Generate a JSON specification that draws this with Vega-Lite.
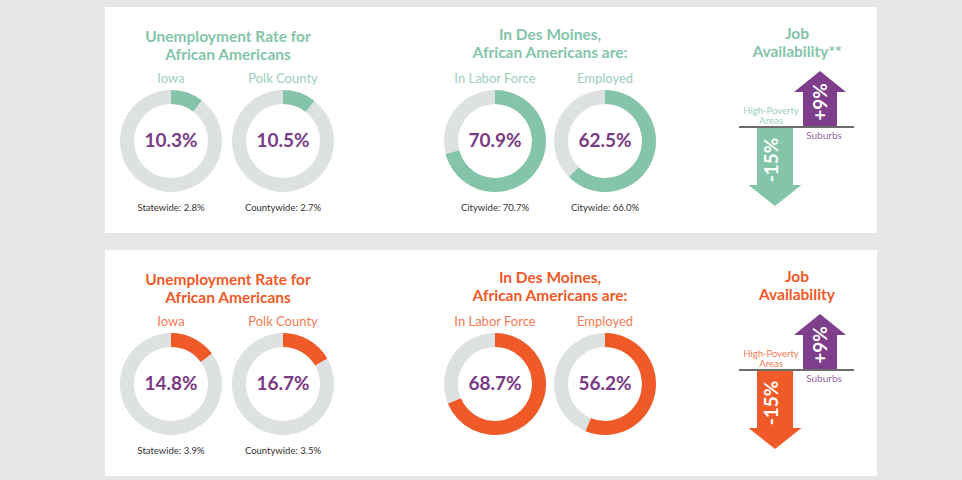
{
  "$schema": "https://vega.github.io/schema/vega-lite/v6.json",
  "background": "#e7e7e7",
  "padding": {"left": 105, "top": 7, "right": 85, "bottom": 4},
  "autosize": {"type": "pad"},
  "data": {
    "values": [
      {"section": "A", "kind": "title", "group": "Unemployment", "title": "Unemployment Rate for\nAfrican Americans"},
      {"section": "A", "kind": "title", "group": "Des Moines", "title": "In Des Moines,\nAfrican Americans are:"},
      {"section": "A", "kind": "title", "group": "Job", "title": "Job\nAvailability**"},
      {"section": "A", "kind": "donut", "group": "Unemployment", "item": "Iowa", "value": 10.3, "text": "10.3%", "caption": "Statewide: 2.8%"},
      {"section": "A", "kind": "donut", "group": "Unemployment", "item": "Polk County", "value": 10.5, "text": "10.5%", "caption": "Countywide: 2.7%"},
      {"section": "A", "kind": "donut", "group": "Des Moines", "item": "In Labor Force", "value": 70.9, "text": "70.9%", "caption": "Citywide: 70.7%"},
      {"section": "A", "kind": "donut", "group": "Des Moines", "item": "Employed", "value": 62.5, "text": "62.5%", "caption": "Citywide: 66.0%"},
      {"section": "A", "kind": "arrow", "group": "Job", "area": "High-Poverty Areas", "value": -15, "text": "-15%"},
      {"section": "A", "kind": "arrow", "group": "Job", "area": "Suburbs", "value": 9, "text": "+9%"},
      {"section": "B", "kind": "title", "group": "Unemployment", "title": "Unemployment Rate for\nAfrican Americans"},
      {"section": "B", "kind": "title", "group": "Des Moines", "title": "In Des Moines,\nAfrican Americans are:"},
      {"section": "B", "kind": "title", "group": "Job", "title": "Job\nAvailability"},
      {"section": "B", "kind": "donut", "group": "Unemployment", "item": "Iowa", "value": 14.8, "text": "14.8%", "caption": "Statewide: 3.9%"},
      {"section": "B", "kind": "donut", "group": "Unemployment", "item": "Polk County", "value": 16.7, "text": "16.7%", "caption": "Countywide: 3.5%"},
      {"section": "B", "kind": "donut", "group": "Des Moines", "item": "In Labor Force", "value": 68.7, "text": "68.7%"},
      {"section": "B", "kind": "donut", "group": "Des Moines", "item": "Employed", "value": 56.2, "text": "56.2%"},
      {"section": "B", "kind": "arrow", "group": "Job", "area": "High-Poverty Areas", "value": -15, "text": "-15%"},
      {"section": "B", "kind": "arrow", "group": "Job", "area": "Suburbs", "value": 9, "text": "+9%"}
    ]
  },
  "facet": {"row": {"field": "section", "type": "nominal", "header": null, "title": null}},
  "spacing": {"row": 17},
  "bounds": "flush",
  "spec": {
    "width": 772,
    "height": 226,
    "resolve": {"scale": {"x": "independent", "y": "independent"}},
    "layer": [
      {
        "transform": [{"filter": "datum.kind=='donut' && datum.group=='Unemployment'"}],
        "mark": {"type": "arc", "innerRadius": 37, "outerRadius": 51, "color": "#dee1e2"},
        "encoding": {
          "x": {"field": "item", "type": "nominal", "scale": {"type": "point", "domain": ["Iowa", "Polk County"], "range": [66, 178], "padding": 0}, "axis": null},
          "y": {"field": "kind", "type": "nominal", "scale": {"type": "point", "domain": ["donut"], "range": [134, 134]}, "axis": null}
        }
      },
      {
        "transform": [{"filter": "datum.kind=='donut' && datum.group=='Unemployment'"}],
        "mark": {"type": "arc", "innerRadius": 37, "outerRadius": 51},
        "encoding": {
          "x": {"field": "item", "type": "nominal", "scale": {"type": "point", "domain": ["Iowa", "Polk County"], "range": [66, 178], "padding": 0}, "axis": null},
          "y": {"field": "kind", "type": "nominal", "scale": {"type": "point", "domain": ["donut"], "range": [134, 134]}, "axis": null},
          "theta": {"field": "value", "type": "quantitative", "stack": null, "scale": {"domain": [0, 100]}},
          "color": {"field": "section", "type": "nominal", "scale": {"domain": ["A", "B"], "range": ["#84c5a9", "#f05a28"]}, "legend": null}
        }
      },
      {
        "transform": [{"filter": "datum.kind=='donut' && datum.group=='Des Moines'"}],
        "mark": {"type": "arc", "innerRadius": 37, "outerRadius": 51, "color": "#dee1e2"},
        "encoding": {
          "x": {"field": "item", "type": "nominal", "scale": {"type": "point", "domain": ["In Labor Force", "Employed"], "range": [390, 500], "padding": 0}, "axis": null},
          "y": {"field": "kind", "type": "nominal", "scale": {"type": "point", "domain": ["donut"], "range": [134, 134]}, "axis": null}
        }
      },
      {
        "transform": [{"filter": "datum.kind=='donut' && datum.group=='Des Moines'"}],
        "mark": {"type": "arc", "innerRadius": 37, "outerRadius": 51},
        "encoding": {
          "x": {"field": "item", "type": "nominal", "scale": {"type": "point", "domain": ["In Labor Force", "Employed"], "range": [390, 500], "padding": 0}, "axis": null},
          "y": {"field": "kind", "type": "nominal", "scale": {"type": "point", "domain": ["donut"], "range": [134, 134]}, "axis": null},
          "theta": {"field": "value", "type": "quantitative", "stack": null, "scale": {"domain": [0, 100]}},
          "color": {"field": "section", "type": "nominal", "scale": {"domain": ["A", "B"], "range": ["#84c5a9", "#f05a28"]}, "legend": null}
        }
      },
      {
        "transform": [{"filter": "datum.kind=='donut' && datum.group=='Unemployment'"}],
        "mark": {"type": "text", "font": "Lato", "fontSize": 19, "fontWeight": "bold", "color": "#7b3a86", "align": "center", "baseline": "middle"},
        "encoding": {
          "x": {"field": "item", "type": "nominal", "scale": {"type": "point", "domain": ["Iowa", "Polk County"], "range": [66, 178], "padding": 0}, "axis": null},
          "y": {"field": "kind", "type": "nominal", "scale": {"type": "point", "domain": ["donut"], "range": [134, 134]}, "axis": null},
          "text": {"field": "text"}
        }
      },
      {
        "transform": [{"filter": "datum.kind=='donut' && datum.group=='Des Moines'"}],
        "mark": {"type": "text", "font": "Lato", "fontSize": 19, "fontWeight": "bold", "color": "#7b3a86", "align": "center", "baseline": "middle"},
        "encoding": {
          "x": {"field": "item", "type": "nominal", "scale": {"type": "point", "domain": ["In Labor Force", "Employed"], "range": [390, 500], "padding": 0}, "axis": null},
          "y": {"field": "kind", "type": "nominal", "scale": {"type": "point", "domain": ["donut"], "range": [134, 134]}, "axis": null},
          "text": {"field": "text"}
        }
      },
      {
        "transform": [{"filter": "datum.kind=='donut' && datum.group=='Unemployment'"}],
        "mark": {"type": "text", "font": "Lato", "fontSize": 13, "opacity": 0.8, "align": "center", "baseline": "middle"},
        "encoding": {
          "x": {"field": "item", "type": "nominal", "scale": {"type": "point", "domain": ["Iowa", "Polk County"], "range": [66, 178], "padding": 0}, "axis": null},
          "y": {"field": "kind", "type": "nominal", "scale": {"type": "point", "domain": ["donut"], "range": [72, 72]}, "axis": null},
          "text": {"field": "item"},
          "color": {"field": "section", "type": "nominal", "scale": {"domain": ["A", "B"], "range": ["#84c5a9", "#f05a28"]}, "legend": null}
        }
      },
      {
        "transform": [{"filter": "datum.kind=='donut' && datum.group=='Des Moines'"}],
        "mark": {"type": "text", "font": "Lato", "fontSize": 13, "opacity": 0.8, "align": "center", "baseline": "middle"},
        "encoding": {
          "x": {"field": "item", "type": "nominal", "scale": {"type": "point", "domain": ["In Labor Force", "Employed"], "range": [390, 500], "padding": 0}, "axis": null},
          "y": {"field": "kind", "type": "nominal", "scale": {"type": "point", "domain": ["donut"], "range": [72, 72]}, "axis": null},
          "text": {"field": "item"},
          "color": {"field": "section", "type": "nominal", "scale": {"domain": ["A", "B"], "range": ["#84c5a9", "#f05a28"]}, "legend": null}
        }
      },
      {
        "transform": [{"filter": "datum.kind=='donut' && datum.group=='Unemployment' && datum.caption"}],
        "mark": {"type": "text", "font": "Lato", "fontSize": 9.5, "color": "#333333", "align": "center", "baseline": "middle"},
        "encoding": {
          "x": {"field": "item", "type": "nominal", "scale": {"type": "point", "domain": ["Iowa", "Polk County"], "range": [66, 178], "padding": 0}, "axis": null},
          "y": {"field": "kind", "type": "nominal", "scale": {"type": "point", "domain": ["donut"], "range": [201, 201]}, "axis": null},
          "text": {"field": "caption"}
        }
      },
      {
        "transform": [{"filter": "datum.kind=='donut' && datum.group=='Des Moines' && datum.caption"}],
        "mark": {"type": "text", "font": "Lato", "fontSize": 9.5, "color": "#333333", "align": "center", "baseline": "middle"},
        "encoding": {
          "x": {"field": "item", "type": "nominal", "scale": {"type": "point", "domain": ["In Labor Force", "Employed"], "range": [390, 500], "padding": 0}, "axis": null},
          "y": {"field": "kind", "type": "nominal", "scale": {"type": "point", "domain": ["donut"], "range": [201, 201]}, "axis": null},
          "text": {"field": "caption"}
        }
      },
      {
        "transform": [{"filter": "datum.kind=='title' && datum.group=='Unemployment'"}],
        "mark": {"type": "text", "font": "Lato", "fontSize": 15.5, "fontWeight": "bold", "align": "center", "baseline": "alphabetic", "lineBreak": "\n", "lineHeight": 17.5},
        "encoding": {
          "x": {"field": "group", "type": "nominal", "scale": {"type": "point", "domain": ["Unemployment"], "range": [123, 123]}, "axis": null},
          "y": {"field": "kind", "type": "nominal", "scale": {"type": "point", "domain": ["title"], "range": [35, 35]}, "axis": null},
          "text": {"field": "title"},
          "color": {"field": "section", "type": "nominal", "scale": {"domain": ["A", "B"], "range": ["#84c5a9", "#f05a28"]}, "legend": null}
        }
      },
      {
        "transform": [{"filter": "datum.kind=='title' && datum.group=='Des Moines'"}],
        "mark": {"type": "text", "font": "Lato", "fontSize": 15.5, "fontWeight": "bold", "align": "center", "baseline": "alphabetic", "lineBreak": "\n", "lineHeight": 17.5},
        "encoding": {
          "x": {"field": "group", "type": "nominal", "scale": {"type": "point", "domain": ["Des Moines"], "range": [445, 445]}, "axis": null},
          "y": {"field": "kind", "type": "nominal", "scale": {"type": "point", "domain": ["title"], "range": [33, 33]}, "axis": null},
          "text": {"field": "title"},
          "color": {"field": "section", "type": "nominal", "scale": {"domain": ["A", "B"], "range": ["#84c5a9", "#f05a28"]}, "legend": null}
        }
      },
      {
        "transform": [{"filter": "datum.kind=='title' && datum.group=='Job'"}],
        "mark": {"type": "text", "font": "Lato", "fontSize": 15.5, "fontWeight": "bold", "align": "center", "baseline": "alphabetic", "lineBreak": "\n", "lineHeight": 17.5},
        "encoding": {
          "x": {"field": "group", "type": "nominal", "scale": {"type": "point", "domain": ["Job"], "range": [692, 692]}, "axis": null},
          "y": {"field": "kind", "type": "nominal", "scale": {"type": "point", "domain": ["title"], "range": [32, 32]}, "axis": null},
          "text": {"field": "title"},
          "color": {"field": "section", "type": "nominal", "scale": {"domain": ["A", "B"], "range": ["#84c5a9", "#f05a28"]}, "legend": null}
        }
      },
      {
        "transform": [{"filter": "datum.kind=='arrow' && datum.area=='High-Poverty Areas'"}],
        "mark": {"type": "point", "filled": true, "opacity": 1, "strokeWidth": 0, "size": 25600, "shape": "M-0.225,0L-0.225,0.725L-0.33125,0.725L0,0.9875L0.33125,0.725L0.225,0.725L0.225,0Z"},
        "encoding": {
          "x": {"field": "area", "type": "nominal", "scale": {"type": "point", "domain": ["High-Poverty Areas", "Suburbs"], "range": [670, 715], "padding": 0}, "axis": null},
          "y": {"field": "kind", "type": "nominal", "scale": {"type": "point", "domain": ["arrow"], "range": [120, 120]}, "axis": null},
          "color": {"field": "section", "type": "nominal", "scale": {"domain": ["A", "B"], "range": ["#84c5a9", "#f05a28"]}, "legend": null}
        }
      },
      {
        "transform": [{"filter": "datum.kind=='arrow' && datum.area=='Suburbs'"}],
        "mark": {"type": "point", "filled": true, "opacity": 1, "strokeWidth": 0, "size": 25600, "color": "#7e3e8b", "shape": "M-0.2125,0L-0.2125,-0.4375L-0.325,-0.4375L0,-0.7L0.325,-0.4375L0.2125,-0.4375L0.2125,0Z"},
        "encoding": {
          "x": {"field": "area", "type": "nominal", "scale": {"type": "point", "domain": ["High-Poverty Areas", "Suburbs"], "range": [670, 715], "padding": 0}, "axis": null},
          "y": {"field": "kind", "type": "nominal", "scale": {"type": "point", "domain": ["arrow"], "range": [120, 120]}, "axis": null}
        }
      },
      {
        "transform": [{"filter": "datum.kind=='arrow' && datum.area=='High-Poverty Areas'"}],
        "mark": {"type": "point", "filled": false, "opacity": 1, "strokeWidth": 2, "size": 25600, "color": "#6b6b6b", "shape": "M-0.45,0L0.9875,0"},
        "encoding": {
          "x": {"field": "area", "type": "nominal", "scale": {"type": "point", "domain": ["High-Poverty Areas", "Suburbs"], "range": [670, 715], "padding": 0}, "axis": null},
          "y": {"field": "kind", "type": "nominal", "scale": {"type": "point", "domain": ["arrow"], "range": [120, 120]}, "axis": null}
        }
      },
      {
        "transform": [{"filter": "datum.kind=='arrow'"}],
        "mark": {"type": "text", "font": "Lato", "fontSize": 19, "fontWeight": "bold", "color": "white", "angle": 270, "align": "center", "baseline": "middle"},
        "encoding": {
          "x": {"field": "area", "type": "nominal", "scale": {"type": "point", "domain": ["High-Poverty Areas", "Suburbs"], "range": [667, 716], "padding": 0}, "axis": null},
          "y": {"field": "area", "type": "nominal", "scale": {"type": "point", "domain": ["High-Poverty Areas", "Suburbs"], "range": [153, 95], "padding": 0}, "axis": null},
          "text": {"field": "text"}
        }
      },
      {
        "transform": [{"filter": "datum.kind=='arrow'"}],
        "mark": {"type": "text", "font": "Lato", "fontSize": 9.5, "opacity": 0.8, "align": "center", "baseline": "alphabetic", "lineBreak": " ", "lineHeight": 9.5},
        "encoding": {
          "x": {"field": "area", "type": "nominal", "scale": {"type": "point", "domain": ["High-Poverty Areas", "Suburbs"], "range": [666, 719], "padding": 0}, "axis": null},
          "y": {"field": "area", "type": "nominal", "scale": {"type": "point", "domain": ["High-Poverty Areas", "Suburbs"], "range": [107, 131.5], "padding": 0}, "axis": null},
          "text": {"field": "area"},
          "size": {"condition": {"test": "datum.area=='Suburbs'", "value": 10}, "value": 9.5},
          "color": {
            "condition": {"test": "datum.area=='Suburbs'", "value": "#7e3e8b"},
            "field": "section", "type": "nominal", "scale": {"domain": ["A", "B"], "range": ["#84c5a9", "#f05a28"]}, "legend": null
          }
        }
      }
    ]
  },
  "config": {
    "view": {"stroke": null, "fill": "white"},
    "legend": {"disable": true},
    "text": {"font": "Lato"}
  }
}
